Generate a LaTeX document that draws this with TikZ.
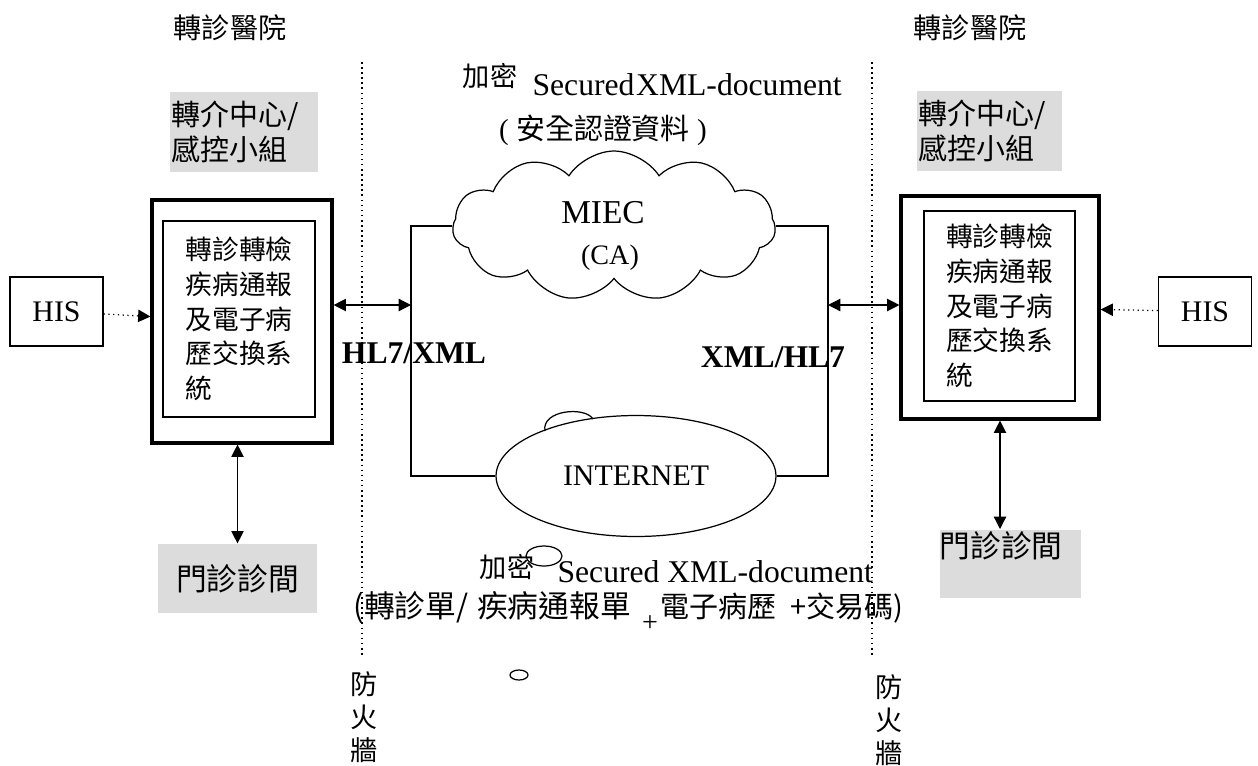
\documentclass[tikz,border=0pt]{standalone}
\usepackage{fontspec}
\setmainfont{Liberation Serif}
\newfontfamily\cjk{Noto Sans CJK TC}
\usetikzlibrary{positioning,arrows.meta,shapes.symbols,shapes.geometric}
\definecolor{clinicGray}{RGB}{220,220,220}

\begin{document}
\begin{tikzpicture}[
    x=0.02cm, y=-0.02cm,
    line width=0.7pt,
    >={Triangle[length=7pt,width=7pt]},
    sysframe/.style={rectangle, draw, line width=1.8pt, inner sep=0pt},
    sysbox/.style={rectangle, draw, line width=0.8pt, align=left, font=\cjk\fontsize{15.2}{19.8}\selectfont},
    his/.style={rectangle, draw, line width=0.8pt, minimum width=1.86cm, minimum height=1.38cm, font=\fontsize{17}{18}\selectfont},
    grayzone/.style={rectangle, fill=clinicGray, align=left, font=\cjk\fontsize{16.5}{19.8}\selectfont},
    cjklabel/.style={font=\cjk\fontsize{15.5}{18}\selectfont, inner sep=0pt},
    wall/.style={font=\cjk\fontsize{15.5}{18.7}\selectfont, align=center, inner sep=0pt},
    proto/.style={font=\bfseries\fontsize{18}{20}\selectfont, inner sep=0pt},
    firewall/.style={dotted, line width=0.9pt}
]
  \useasboundingbox (0,0) rectangle (1258,765);

  % hospitals and referral centres
  \node[cjklabel, font=\cjk\fontsize{16}{18}\selectfont] (lhosp) at (230,28) {轉診醫院};
  \node[cjklabel, font=\cjk\fontsize{16}{18}\selectfont] (rhosp) at (970,28) {轉診醫院};
  \node[grayzone, text width=2.9cm, inner xsep=1pt, minimum height=1.6cm] (lcenter) at (244,132) {轉介中心/\\感控小組};
  \node[grayzone, text width=2.84cm, inner xsep=1pt, minimum height=1.6cm] (rcenter) at (989.5,131) {轉介中心/\\感控小組};

  % exchange systems
  \node[sysframe, minimum width=3.6cm, minimum height=4.86cm] (lout) at (242,321.5) {};
  \node[sysbox, minimum width=3.04cm, minimum height=3.92cm] (lsys) at (239,319) {轉診轉檢\\疾病通報\\及電子病\\歷交換系\\統};
  \node[sysframe, minimum width=3.96cm, minimum height=4.46cm] (rout) at (1000,307.5) {};
  \node[sysbox, minimum width=3.02cm, minimum height=3.8cm] (rsys) at (999.5,306) {轉診轉檢\\疾病通報\\及電子病\\歷交換系\\統};

  \node[his] (lhis) at (56.5,311.5) {HIS};
  \node[his] (rhis) at (1205,311.5) {HIS};
  \draw[->, dotted] (lhis) -- (lout);
  \draw[->, dotted] (rhis) -- (rout);

  % outpatient clinics
  \node[grayzone, minimum width=3.18cm, minimum height=1.38cm, font=\cjk\fontsize{17.5}{20}\selectfont] (lclinic) at (237.5,578.5) {門診診間};
  \node[grayzone, anchor=north west, text width=2.82cm, inner xsep=0pt, inner ysep=1pt, text height=15pt, text depth=22pt, font=\cjk\fontsize{17.5}{20}\selectfont] (rclinic) at (939,529) {門診診間};
  \draw[<->] (lclinic.north |- lout.south) -- (lclinic.north);
  \draw[<->] (rout.south) -- (rout.south |- rclinic.north);

  % firewalls
  \coordinate (lwtop) at (362,62);
  \coordinate (lwbot) at (362,658);
  \coordinate (rwtop) at (872,62);
  \coordinate (rwbot) at (872,658);
  \draw[firewall] (lwtop) -- (lwbot);
  \draw[firewall] (rwtop) -- (rwbot);
  \node[wall] (lwall) at (364,717) {防\\火\\牆};
  \node[wall] (rwall) at (889,720) {防\\火\\牆};

  % network
  \node[cloud, draw, cloud puffs=11, cloud puff arc=115, aspect=2.1, inner sep=0pt, minimum width=6.46cm, minimum height=3cm] (miec) at (614,226) {};
  \node[font=\fontsize{19}{20}\selectfont, inner sep=0pt] (miecname) at (603,213) {MIEC};
  \node[font=\fontsize{16}{18}\selectfont, inner sep=0pt] (miecca) at (610,258) {(CA)};
  \node[ellipse, draw, minimum width=5.6cm, minimum height=2.42cm, font=\fontsize{17}{18}\selectfont] (inet) at (636,476) {INTERNET};
  \draw (545,431) .. controls (541,410) and (585,406) .. (593,419);

  \coordinate (lbus) at (411,305);
  \coordinate (rbus) at (828,305);
  \draw (miec.west) -| (lbus) |- (inet.west);
  \draw (miec.east) -| (rbus) |- (inet.east);
  \draw[<->] (lbus -| lout.east) -- (lbus);
  \draw[<->] (rbus) -- (rbus -| rout.west);
  \node[proto] (lproto) at (414,353) {HL7/XML};
  \node[proto] (rproto) at (773,357) {XML/HL7};

  % secured documents
  \node[cjklabel] (topenc) at (490,76) {加密};
  \node[anchor=west, inner sep=0pt, font=\fontsize{18}{20}\selectfont] (topdoc) at (532,85) {Secured\hspace{1pt}XML-document};
  \node[inner sep=0pt, font=\fontsize{16.5}{18}\selectfont] (topcert) at (603,130) {( {\cjk 安全認證資料} )};

  \node[cjklabel] (botenc) at (507,567) {加密};
  \draw (544,556) ellipse [x radius=18, y radius=10];
  \node[anchor=west, inner sep=0pt, font=\fontsize{18}{20}\selectfont] (botdoc) at (557,572) {Secured XML-document};
  \node[anchor=west, inner sep=0pt, font=\cjk\fontsize{17.5}{18}\selectfont] (botlista) at (353,608) {(轉診單/\hspace{5pt}疾病通報單};
  \node[inner sep=0pt, font=\fontsize{16}{18}\selectfont] (botplus) at (650,624) {+};
  \node[anchor=west, inner sep=0pt, font=\cjk\fontsize{16.5}{18}\selectfont] (botlistb) at (660,608) {電子病歷\hspace{8pt}+交易碼)};
  \draw (519,675) ellipse [x radius=9, y radius=5];
\end{tikzpicture}
\end{document}
